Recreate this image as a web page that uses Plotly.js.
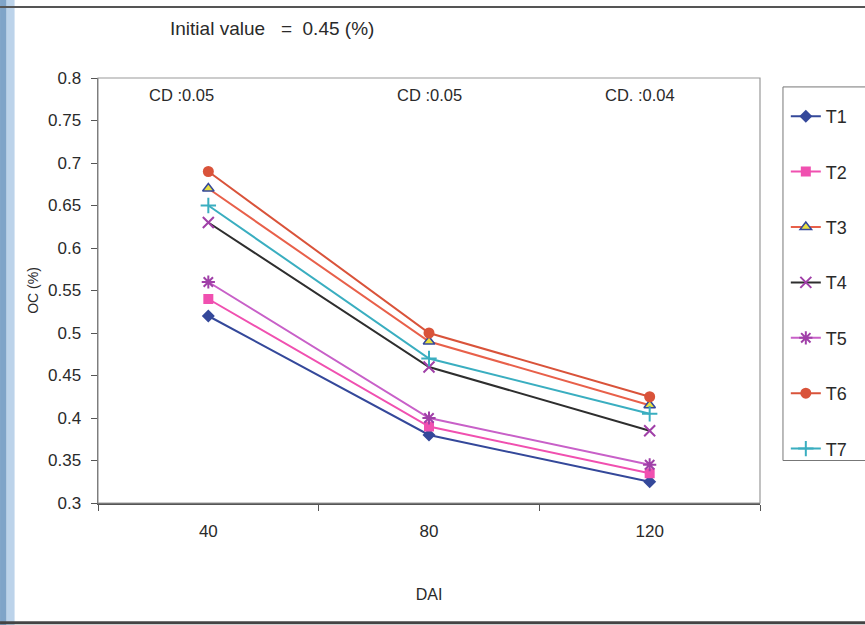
<!DOCTYPE html>
<html>
<head>
<meta charset="utf-8">
<script src="https://cdn.plot.ly/plotly-3.0.1.min.js"></script>
<style>html,body{margin:0;padding:0;background:#fff;}#chart{width:865px;height:625px;}</style>
</head>
<body>
<div id="chart"></div>
<script>
const days = ["40", "80", "120"];
const seriesNames = ["T1", "T2", "T3", "T4", "T5", "T6", "T7"];
const T1 = [0.52, 0.38, 0.325];
const T2 = [0.54, 0.39, 0.335];
const T3 = [0.67, 0.49, 0.415];
const T4 = [0.63, 0.46, 0.385];
const T5 = [0.56, 0.40, 0.345];
const T6 = [0.69, 0.50, 0.425];
const T7 = [0.65, 0.47, 0.405];
const cdLabels = ["CD :0.05", "CD :0.05", "CD. :0.04"];
const initialNote = "Initial value &nbsp;&nbsp;=&nbsp; 0.45 (%)";

const values = [T1, T2, T3, T4, T5, T6, T7];
const styles = [
  {line: "#34489A", marker: {symbol: "diamond", size: 10, color: "#34489A"}},
  {line: "#F050B0", marker: {symbol: "square", size: 10, color: "#F050B0"}},
  {line: "#E8604A", marker: {symbol: "triangle-up", size: 10, color: "#E8E040", line: {color: "#34489A", width: 1.5}}},
  {line: "#2E2E2E", marker: {symbol: "x-thin-open", size: 11, color: "#A040A8", line: {color: "#A040A8", width: 2}}},
  {line: "#C860C8", marker: {symbol: "asterisk-open", size: 11, color: "#A040A8", line: {color: "#A040A8", width: 2}}},
  {line: "#D9533A", marker: {symbol: "circle", size: 11, color: "#D9533A"}},
  {line: "#3AAEC0", marker: {symbol: "cross-thin-open", size: 11, color: "#3AAEC0", line: {color: "#3AAEC0", width: 2}}}
];

const traces = seriesNames.map((n, i) => ({
  x: days, y: values[i], name: n, type: "scatter", mode: "lines+markers",
  legendgroup: n,
  line: {color: styles[i].line, width: 2},
  marker: styles[i].marker
}));

const font = "Liberation Sans, Arial, sans-serif";
const cdX = [0.074, 0.4486, 0.763];
const annotations = [
  {xref: "paper", yref: "paper", x: 0.1057, y: 1.1176, xanchor: "left", yanchor: "middle",
   text: initialNote, showarrow: false, font: {family: font, size: 19, color: "#2a2a2a"}}
];
cdLabels.forEach((t, i) => {
  annotations.push({xref: "paper", yref: "paper", x: cdX[i], y: 0.96, xanchor: "left", yanchor: "middle",
    text: t, showarrow: false, font: {family: font, size: 16.5, color: "#2a2a2a"}});
});

const layout = {
  width: 865, height: 625,
  margin: {l: 98, r: 105, t: 78, b: 122},
  paper_bgcolor: "#ffffff", plot_bgcolor: "#ffffff",
  font: {family: font, color: "#2a2a2a"},
  showlegend: true,
  legend: {x: 1.039, y: 0.953, xanchor: "left", yanchor: "top",
    borderwidth: 0, bgcolor: "rgba(0,0,0,0)",
    font: {family: font, size: 18, color: "#2a2a2a"}, tracegroupgap: 29},
  xaxis: {type: "category", tickson: "boundaries", ticks: "outside", ticklen: 6, tickcolor: "#555",
    showline: true, linecolor: "#555", linewidth: 1.5, mirror: false, showgrid: false, zeroline: false,
    range: [-0.5, 2.5], ticklabelstandoff: 12,
    tickfont: {family: font, size: 17, color: "#2a2a2a"},
    title: {text: "DAI", font: {family: font, size: 16, color: "#2a2a2a"}, standoff: 49}},
  yaxis: {range: [0.3, 0.8], dtick: 0.05, tick0: 0.3, ticks: "outside", ticklen: 6, tickcolor: "#555",
    showline: true, linecolor: "#555", linewidth: 1.5, showgrid: false, zeroline: false,
    ticklabelstandoff: 6,
    tickfont: {family: font, size: 17, color: "#2a2a2a"},
    title: {text: "OC (%)", font: {family: font, size: 14, color: "#2a2a2a"}, standoff: 6}},
  shapes: [
    {type: "rect", xref: "paper", yref: "paper", x0: 0, x1: 1, y0: 0, y1: 1, line: {color: "#999", width: 1.2}},
    {type: "rect", xref: "paper", yref: "paper", x0: 1.0347, x1: 1.2, y0: 0.1, y1: 0.979, fillcolor: "rgba(0,0,0,0)", line: {color: "#777", width: 1}},
    {type: "rect", xref: "paper", yref: "paper", x0: -0.148, x1: -0.138, y0: -0.3, y1: 1.2, fillcolor: "#7FA4C8", line: {width: 0}, layer: "below"},
    {type: "rect", xref: "paper", yref: "paper", x0: -0.138, x1: -0.126, y0: -0.3, y1: 1.2, fillcolor: "#BCD3EA", line: {width: 0}, layer: "below"},
    {type: "line", xref: "paper", yref: "paper", x0: -0.148, x1: 1.16, y0: 1.167, y1: 1.167, line: {color: "#555", width: 2}},
    {type: "line", xref: "paper", yref: "paper", x0: -0.148, x1: 1.16, y0: -0.282, y1: -0.282, line: {color: "#444", width: 3}}
  ],
  annotations: annotations
};

Plotly.newPlot("chart", traces, layout, {displayModeBar: false, staticPlot: true});
</script>
</body>
</html>
